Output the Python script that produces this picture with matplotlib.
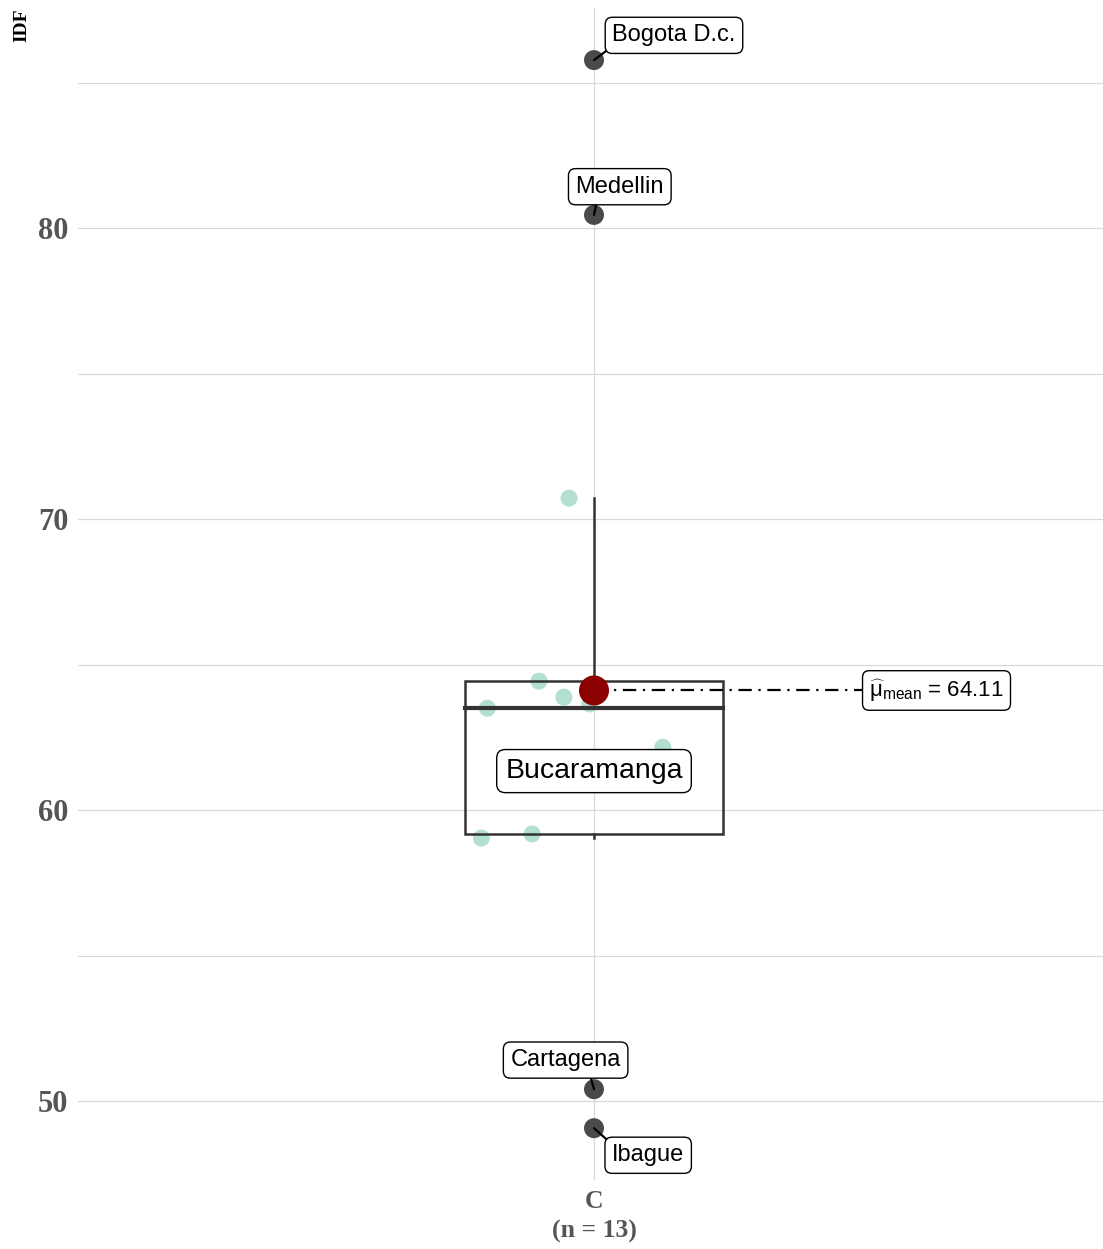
import matplotlib
matplotlib.use("Agg")
import matplotlib.pyplot as plt
import numpy as np

plt.rcParams["mathtext.fontset"] = "custom"
plt.rcParams["mathtext.rm"] = "Liberation Sans"
plt.rcParams["mathtext.it"] = "Liberation Sans"

# ---- data ----
category = "C"
n_obs = 13
values = [85.77, 80.45, 70.72, 64.43, 63.88, 63.65, 63.50, 62.16, 61.17, 59.18, 59.04, 50.41, 49.07]
jitter_x = [1.0, 1.0, 0.971, 0.936, 0.965, 0.995, 0.876, 1.080, 1.0, 0.928, 0.869, 1.0, 1.0]
outlier_names = ["Bogota D.c.", "Medellin", "Cartagena", "Ibague"]
outlier_values = [85.77, 80.45, 50.41, 49.07]
labelled_inlier_name = "Bucaramanga"
labelled_inlier_value = 61.17
mean_value = 64.11

# ---- layout ----
W, H = 1103, 1249
fig = plt.figure(figsize=(W / 100, H / 100), dpi=100)
ax = fig.add_axes([78 / W, (H - 1180) / H, 1032 / W, 1172 / H])
ax.set_xlim(0.4, 1.6)
ax.set_ylim(47.29, 87.56)

serif = dict(family="Liberation Serif", weight="bold")
tick_col = "#555555"
grid_col = "#d9d9d9"

for s in ax.spines.values():
    s.set_visible(False)
ax.set_yticks([50, 60, 70, 80])
ax.set_yticks([55, 65, 75, 85], minor=True)
ax.set_xticks([1])
ax.set_xticklabels([f"{category}\n(n = {n_obs})"], fontdict=dict(size=18.5, color=tick_col, **serif), linespacing=1.4)
ax.set_yticklabels([str(v) for v in [50, 60, 70, 80]], fontdict=dict(size=22, color=tick_col, **serif))
ax.tick_params(axis="both", which="both", length=0)
ax.tick_params(axis="y", pad=7)
ax.tick_params(axis="x", pad=7)
ax.grid(True, which="major", color=grid_col, lw=0.9)
ax.grid(True, which="minor", axis="y", color=grid_col, lw=0.9)
ax.set_axisbelow(True)

# ---- box stats ----
arr = np.array(values)
q1, med, q3 = np.percentile(arr, [25, 50, 75])
iqr = q3 - q1
lo_f, hi_f = q1 - 1.5 * iqr, q3 + 1.5 * iqr
inl = arr[(arr >= lo_f) & (arr <= hi_f)]
wlo, whi = inl.min(), inl.max()

box_col = "#333333"
bw = 0.3
ax.plot([1, 1], [q3, whi], color=box_col, lw=1.8, zorder=2)
ax.plot([1, 1], [wlo, q1], color=box_col, lw=1.8, zorder=2)
ax.add_patch(plt.Rectangle((1 - bw / 2, q1), bw, q3 - q1, fc="none", ec=box_col, lw=1.8, zorder=3))
ax.plot([1 - bw / 2, 1 + bw / 2], [med, med], color=box_col, lw=3.0, zorder=3)

# ---- points ----
is_out = (arr < lo_f) | (arr > hi_f)
jx = np.array(jitter_x)
ax.scatter(jx[~is_out], arr[~is_out], s=150, color="#9fd8c6", alpha=0.8, edgecolors="none", zorder=2.5)
ax.scatter(np.ones(len(outlier_values)), outlier_values, s=207, color="#4a4a4a", edgecolors="none", zorder=4)

# mean
ax.scatter([1], [mean_value], s=467, color="#8b0000", edgecolors="none", zorder=5)
ax.plot([1, 1.3116], [mean_value, mean_value], color="black", lw=1.6, ls=(0, (6, 3, 1, 3)), zorder=4.5)

bbox = dict(boxstyle="round,pad=0.3,rounding_size=0.3", fc="white", ec="black", lw=1.0)
ax.text(1.320, mean_value, r"$\widehat{\mathrm{\mu}}_{\mathrm{mean}}$" + f" = {mean_value:.2f}",
        family="Liberation Sans", fontsize=16, ha="left", va="center", bbox=bbox, zorder=6)

# ---- labels ----
label_pos = {"Bogota D.c.": (1.093, 86.62), "Medellin": (1.030, 81.42),
             "Cartagena": (0.967, 51.41), "Ibague": (1.063, 48.14)}
label_rel = {"Bogota D.c.": (0.0, 0.0), "Medellin": (0.25, 0.0),
             "Cartagena": (0.71, 0.0), "Ibague": (0.0, 1.0)}
for name, v in zip(outlier_names, outlier_values):
    lx, ly = label_pos[name]
    ax.annotate(name, xy=(1, v), xytext=(lx, ly), textcoords="data", ha="center", va="center",
                family="Liberation Sans", fontsize=17, bbox=bbox, zorder=6,
                arrowprops=dict(arrowstyle="-", color="black", lw=1.6, shrinkA=0, shrinkB=0,
                                relpos=label_rel[name]))
ax.text(1.0, 61.34, labelled_inlier_name, ha="center", va="center", family="Liberation Sans",
        fontsize=20.5, bbox=bbox, zorder=6)

fig.text(22 / W, 1 - 8 / H, "IDF", rotation=90, va="top", ha="center", fontsize=14,
         color="black", **serif)

fig.savefig("out.png", dpi=100)
